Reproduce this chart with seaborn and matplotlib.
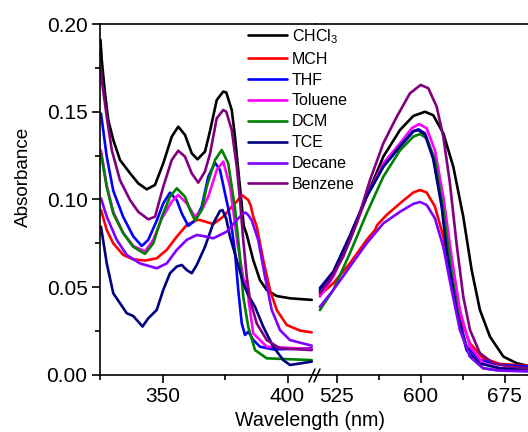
import numpy as np
import pandas as pd
import matplotlib
matplotlib.use("Agg")
import matplotlib.pyplot as plt
import seaborn as sns
from matplotlib.lines import Line2D
from matplotlib.ticker import MultipleLocator, FixedLocator

sns.set_style("ticks")
plt.rcParams["font.family"] = ["Liberation Sans", "DejaVu Sans"]
plt.rcParams["mathtext.fontset"] = "custom"
plt.rcParams["mathtext.rm"] = "Liberation Sans"
plt.rcParams["mathtext.it"] = "Liberation Sans:italic"
for k in ("text.color", "axes.labelcolor", "xtick.color", "ytick.color", "axes.edgecolor"):
    plt.rcParams[k] = "black"

solvents = ["CHCl$_3$", "MCH", "THF", "Toluene", "DCM", "TCE", "Decane", "Benzene"]
colors = ["#000000", "#FF0000", "#0000FF", "#FF00FF", "#008000", "#000080", "#8000FF", "#800080"]

# ---- Left region (325-410 nm) ----
chcl3_l_x = [325.2, 325.7, 327, 328.3, 330.3, 333, 337, 340.3, 343.7, 347, 350.3, 353.7, 356.3, 359, 361.7, 364, 367, 369, 371.7, 374.3, 375.5, 377.7, 379, 380.3, 381.7, 382.5, 383.7, 386.3, 389, 391.7, 395.7, 401, 409.7]
chcl3_l_y = [0.191, 0.1795, 0.1605, 0.1453, 0.134, 0.1225, 0.115, 0.1092, 0.1058, 0.1083, 0.1206, 0.1358, 0.1415, 0.1368, 0.1263, 0.1229, 0.1273, 0.139, 0.1567, 0.1615, 0.161, 0.151, 0.1358, 0.1168, 0.097, 0.085, 0.080, 0.0655, 0.054, 0.0484, 0.045, 0.0437, 0.0428]

mch_l_x = [325.4, 327.7, 330.3, 334.3, 338.3, 343, 347.7, 351.7, 355.7, 359.7, 363.7, 365, 370.3, 374.3, 378.3, 379.5, 381.7, 384.3, 385.3, 386.3, 387.7, 390.3, 393, 395.7, 399.7, 405, 409.7]
mch_l_y = [0.094, 0.0826, 0.075, 0.0684, 0.0659, 0.0652, 0.0665, 0.0713, 0.0788, 0.0855, 0.0883, 0.0883, 0.086, 0.0902, 0.0969, 0.0985, 0.1026, 0.0997, 0.0965, 0.0902, 0.0845, 0.0655, 0.0484, 0.037, 0.0285, 0.0253, 0.0243]

thf_l_x = [325.4, 327.7, 330.3, 334.3, 338.3, 341.7, 344.3, 347.7, 350.3, 353, 355.7, 357.7, 360.3, 363, 365.7, 368.3, 371, 373, 375, 376.3, 377.7, 379, 380.3, 381.7, 383, 384.3, 386.3, 389, 394.3, 409.7]
thf_l_y = [0.149, 0.1244, 0.105, 0.090, 0.079, 0.0735, 0.077, 0.088, 0.0978, 0.1039, 0.0997, 0.0921, 0.085, 0.088, 0.096, 0.113, 0.121, 0.1168, 0.1035, 0.095, 0.084, 0.070, 0.0484, 0.0294, 0.0228, 0.0247, 0.020, 0.0161, 0.0146, 0.0152]

tol_l_x = [325.4, 327.7, 330.3, 334.3, 338.3, 343, 346.3, 349.7, 353.7, 356.3, 359.7, 363, 365.7, 368.3, 371.7, 374.3, 377, 378.3, 380, 381.5, 383, 383.7, 384.5, 386.3, 391.7, 409.7]
tol_l_y = [0.128, 0.108, 0.093, 0.081, 0.0735, 0.0705, 0.077, 0.089, 0.0988, 0.1026, 0.0978, 0.0902, 0.094, 0.1016, 0.1168, 0.1216, 0.1073, 0.094, 0.075, 0.062, 0.050, 0.054, 0.042, 0.0237, 0.0161, 0.0148]

dcm_l_x = [325.4, 327.7, 330.3, 334.3, 338.3, 343, 346.3, 349.7, 353, 355.7, 359, 361, 363, 365.7, 367.7, 371, 373.7, 376.3, 377.7, 379, 380.7, 382.3, 384.3, 387, 391.7, 409.7]
dcm_l_y = [0.126, 0.107, 0.092, 0.0807, 0.073, 0.069, 0.075, 0.090, 0.1016, 0.1064, 0.1016, 0.094, 0.088, 0.094, 0.1073, 0.1225, 0.1282, 0.1206, 0.1073, 0.095, 0.0712, 0.0446, 0.0275, 0.0142, 0.0095, 0.0085]

tce_l_x = [325.4, 327.7, 330.3, 333, 335.7, 338.3, 340.3, 342, 344.3, 347.7, 350.3, 353, 355.7, 357.7, 359.7, 361.7, 363.7, 367, 370.3, 373, 374, 375.5, 377, 379.7, 382.3, 384.3, 387, 390.3, 394.3, 398.3, 401, 405, 409.7]
tce_l_y = [0.0845, 0.0636, 0.0466, 0.0409, 0.0352, 0.0336, 0.0304, 0.0276, 0.0323, 0.0371, 0.0485, 0.058, 0.0618, 0.0627, 0.0598, 0.058, 0.0627, 0.0731, 0.0864, 0.0935, 0.094, 0.089, 0.0788, 0.0655, 0.0522, 0.0455, 0.0389, 0.0275, 0.0161, 0.0085, 0.0057, 0.0066, 0.0076]

dec_l_x = [325.4, 327.7, 331.7, 335.7, 341, 347.7, 351.7, 355.7, 359.7, 363.7, 367.7, 370.3, 375.7, 379.7, 382.3, 383.2, 384.3, 385.7, 388.3, 391, 393.7, 397, 401, 409.7]
dec_l_y = [0.1007, 0.0902, 0.077, 0.0684, 0.0636, 0.0608, 0.0636, 0.0713, 0.077, 0.0798, 0.0788, 0.0779, 0.0817, 0.0883, 0.0921, 0.0925, 0.0912, 0.088, 0.0769, 0.056, 0.037, 0.0256, 0.0199, 0.0167]

benz_l_x = [325.2, 325.7, 327.7, 329.7, 333, 337, 340.3, 344.3, 347, 350.3, 353.7, 356.3, 359, 361.7, 364.3, 367, 369, 371.7, 374.3, 375.5, 377.7, 379.7, 381, 382.3, 383.7, 385, 387.7, 391.7, 397, 409.7]
benz_l_y = [0.176, 0.168, 0.1472, 0.1282, 0.111, 0.0997, 0.093, 0.0887, 0.0902, 0.1073, 0.1225, 0.1278, 0.1244, 0.1149, 0.1096, 0.116, 0.126, 0.1463, 0.151, 0.150, 0.1396, 0.1187, 0.0997, 0.0769, 0.056, 0.0427, 0.0294, 0.0199, 0.0152, 0.0142]

# ---- Right region (510-696 nm) ----
chcl3_r_x = [510, 522, 536.8, 551.7, 566.6, 581.5, 593.4, 603.8, 611.2, 620.2, 629.1, 638, 645.5, 652.9, 661.8, 673.8, 685.7, 695.8]
chcl3_r_y = [0.0475, 0.058, 0.077, 0.1016, 0.1244, 0.1396, 0.1476, 0.150, 0.148, 0.1377, 0.1187, 0.0902, 0.0598, 0.037, 0.0219, 0.0105, 0.0067, 0.0052]

mch_r_x = [510, 522, 536.8, 551.7, 559.2, 561.2, 569.6, 581.5, 593.4, 599.4, 605.3, 612.7, 620.2, 627.6, 635, 644, 655.9, 670.8, 695.8]
mch_r_y = [0.0456, 0.0523, 0.0636, 0.0769, 0.0826, 0.0855, 0.0912, 0.0978, 0.104, 0.1054, 0.104, 0.096, 0.0788, 0.056, 0.0333, 0.018, 0.0095, 0.0063, 0.0052]

thf_r_x = [510, 522, 536.8, 551.7, 566.6, 581.5, 593.4, 597.9, 603.8, 611.2, 618.7, 626.1, 633.6, 641, 652.9, 670.8, 695.8]
thf_r_y = [0.0485, 0.058, 0.0788, 0.1016, 0.1187, 0.130, 0.1387, 0.140, 0.1377, 0.1244, 0.0978, 0.0636, 0.0333, 0.0162, 0.0086, 0.0058, 0.0048]

tol_r_x = [510, 522, 536.8, 551.7, 566.6, 581.5, 592, 598.7, 605.3, 612.7, 620.2, 627.6, 635, 644, 655.9, 670.8, 695.8]
tol_r_y = [0.0447, 0.056, 0.077, 0.1016, 0.1206, 0.132, 0.1406, 0.143, 0.1406, 0.128, 0.1016, 0.0674, 0.037, 0.0162, 0.0067, 0.0038, 0.0033]

dcm_r_x = [510, 522, 536.8, 551.7, 566.6, 581.5, 593.4, 599.4, 605.3, 612.7, 620.2, 627.6, 635, 644, 655.9, 670.8, 695.8]
dcm_r_y = [0.037, 0.0485, 0.0694, 0.092, 0.113, 0.128, 0.1358, 0.1373, 0.1349, 0.1225, 0.094, 0.058, 0.0276, 0.0105, 0.0038, 0.0025, 0.0025]

tce_r_x = [510, 522, 536.8, 551.7, 566.6, 581.5, 593.4, 597.9, 603.8, 611.2, 618.7, 623.1, 632, 641, 652.9, 670.8, 695.8]
tce_r_y = [0.0495, 0.059, 0.0795, 0.1016, 0.1187, 0.1305, 0.1390, 0.1395, 0.1370, 0.1230, 0.0960, 0.0710, 0.0370, 0.0140, 0.0065, 0.0038, 0.0029]

dec_r_x = [510, 522, 536.8, 551.7, 566.6, 581.5, 593.4, 599.4, 605.3, 612.7, 620.2, 627.6, 635, 644, 655.9, 670.8, 695.8]
dec_r_y = [0.0389, 0.0485, 0.0617, 0.075, 0.0864, 0.093, 0.0975, 0.0986, 0.0969, 0.0893, 0.073, 0.0485, 0.0257, 0.0105, 0.0038, 0.0025, 0.002]

benz_r_x = [510, 519, 530.9, 542.8, 554.7, 566.6, 578.5, 590.4, 600, 606.8, 614.2, 620.2, 626.1, 632, 638, 644, 652.9, 664.8, 679.7, 695.8]
benz_r_y = [0.0466, 0.0541, 0.0675, 0.0864, 0.111, 0.132, 0.147, 0.1605, 0.1653, 0.1634, 0.153, 0.1358, 0.1092, 0.075, 0.0447, 0.0257, 0.0124, 0.0067, 0.0048, 0.0038]

left_x = [chcl3_l_x, mch_l_x, thf_l_x, tol_l_x, dcm_l_x, tce_l_x, dec_l_x, benz_l_x]
left_y = [chcl3_l_y, mch_l_y, thf_l_y, tol_l_y, dcm_l_y, tce_l_y, dec_l_y, benz_l_y]
right_x = [chcl3_r_x, mch_r_x, thf_r_x, tol_r_x, dcm_r_x, tce_r_x, dec_r_x, benz_r_x]
right_y = [chcl3_r_y, mch_r_y, thf_r_y, tol_r_y, dcm_r_y, tce_r_y, dec_r_y, benz_r_y]

W, H = 528, 432
fig = plt.figure(figsize=(W / 100, H / 100), dpi=100)
ybot, ytop = 375, 24
axL = fig.add_axes([100 / W, (H - ybot) / H, 216 / W, (ybot - ytop) / H])
axR = fig.add_axes([316 / W, (H - ybot) / H, 212 / W, (ybot - ytop) / H])

LW = 1.9
for i, name in enumerate(solvents):
    dfl = pd.DataFrame({"x": left_x[i], "y": left_y[i]})
    dfr = pd.DataFrame({"x": right_x[i], "y": right_y[i]})
    sns.lineplot(data=dfl, x="x", y="y", ax=axL, color=colors[i], lw=LW, sort=False, estimator=None)
    sns.lineplot(data=dfr, x="x", y="y", ax=axR, color=colors[i], lw=LW, sort=False, estimator=None)

axL.set_xlim(325, 325 + 216 / 2.5)
axR.set_xlim(525 - 20.7 / 1.12, 525 - 20.7 / 1.12 + 212 / 1.12)
for ax in (axL, axR):
    ax.set_ylim(0, 0.20)
    ax.set_xlabel("")
    ax.set_ylabel("")
    for s in ax.spines.values():
        s.set_linewidth(1.2)
        s.set_color("black")
    ax.tick_params(which="major", direction="out", length=6, width=1.2, labelsize=15, colors="black", pad=3)
    ax.tick_params(which="minor", direction="out", length=3.5, width=1.2, colors="black")

axL.spines["right"].set_visible(False)
axR.spines["left"].set_visible(False)
axR.spines["right"].set_visible(False)
axR.tick_params(axis="y", which="both", left=False, labelleft=False)

axL.xaxis.set_major_locator(FixedLocator([350, 400]))
axL.xaxis.set_minor_locator(FixedLocator([325, 375]))
axL.yaxis.set_major_locator(MultipleLocator(0.05))
axL.yaxis.set_minor_locator(MultipleLocator(0.025))
axL.yaxis.set_major_formatter(plt.FuncFormatter(lambda v, p: f"{v:.2f}"))
axR.xaxis.set_major_locator(FixedLocator([525, 600, 675]))
axR.xaxis.set_minor_locator(FixedLocator([562.5, 637.5]))

# axis break marks
for dx in (0, 5):
    fig.add_artist(Line2D([(309 + dx) / W, (315 + dx) / W], [(H - 382) / H, (H - 369) / H],
                          color="black", lw=1.1, transform=fig.transFigure))

fig.text(310 / W, (H - 420) / H, "Wavelength (nm)", ha="center", va="center", fontsize=14.2)
fig.text(23 / W, (H - 177) / H, "Absorbance", ha="center", va="center", rotation=90, fontsize=13.6)

handles = [Line2D([], [], color=c, lw=LW) for c in colors]
fig.legend(handles, solvents, loc="upper left", bbox_to_anchor=(248 / W, (H - 27) / H),
           frameon=False, fontsize=11.5, handlelength=2.45, handletextpad=0.3,
           labelspacing=0.37, borderpad=0, borderaxespad=0)

fig.savefig("out.png", dpi=100)
